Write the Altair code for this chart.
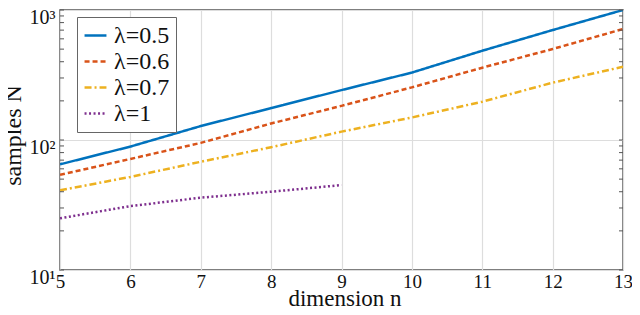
import altair as alt
import pandas as pd

# ---- data ----
n_vals = [5, 6, 7, 8, 9, 10, 11, 12, 13]
lam05 = [65, 89, 128, 176, 242, 330, 486, 701, 1000]
lam06 = [54, 71.5, 95, 134, 183, 254, 360, 501, 714]
lam07 = [41, 52, 68, 88, 116, 149, 197, 276, 366]
n_lam1 = [5, 6, 7, 8, 9]
lam1 = [25, 31, 36, 40, 45]

series_names = ["λ=0.5", "λ=0.6", "λ=0.7", "λ=1"]
series_colors = ["#0072BD", "#D95319", "#EDB120", "#7E2F8E"]
series_dash = [[1, 0], [5, 3], [7, 3, 2, 3], [2, 2.5]]

y_major = [10, 100, 1000]
y_minor = [m * 10 ** k for k in (1, 2) for m in range(2, 10)]
x_ticks = [5, 6, 7, 8, 9, 10, 11, 12, 13]

rows = []
for name, xs, ys in [
    (series_names[0], n_vals, lam05),
    (series_names[1], n_vals, lam06),
    (series_names[2], n_vals, lam07),
    (series_names[3], n_lam1, lam1),
]:
    for xv, yv in zip(xs, ys):
        rows.append({"n": xv, "N": yv, "series": name})
df = pd.DataFrame(rows)

W, H = 563, 260
FONT = "'Liberation Serif', 'DejaVu Serif', serif"

x_scale = alt.Scale(domain=[5, 13], nice=False, zero=False)
y_scale = alt.Scale(type="log", domain=[10, 1000], nice=False)

lines = alt.Chart(df).mark_line(strokeWidth=2.5, clip=True).encode(
    x=alt.X("n:Q", scale=x_scale,
            axis=alt.Axis(title="dimension n", values=x_ticks, grid=True,
                          ticks=False, labelFont=FONT, titleFont=FONT,
                          labelFontSize=19, titleFontSize=23,
                          labelPadding=2, format="d", labelFlush=False,
                          titleBaseline="alphabetic", titleY=35, titleX=W / 2 + 3)),
    y=alt.Y("N:Q", scale=y_scale,
            axis=alt.Axis(title="samples N", values=y_major, grid=True,
                          ticks=False, labelFont=FONT, titleFont=FONT,
                          labelFontSize=20, titleFontSize=24,
                          labelPadding=5, labelBaseline="top", labelOffset=-3,
                          titleBaseline="alphabetic", titleX=-40, titleY=125,
                          labelExpr="'10' + (datum.value >= 1000 ? '³' : datum.value >= 100 ? '²' : '¹')")),
    color=alt.Color("series:N", scale=alt.Scale(domain=series_names, range=series_colors),
                    legend=alt.Legend(title=None, labelFont=FONT)),
    strokeDash=alt.StrokeDash("series:N", scale=alt.Scale(domain=series_names, range=series_dash),
                              legend=alt.Legend(title=None, labelFont=FONT)),
    order=alt.Order("n:Q"),
)

minor_df = pd.DataFrame({"N": y_minor + y_major})
left_ticks = alt.Chart(minor_df).mark_rule(color="#555", strokeWidth=1).encode(
    y=alt.Y("N:Q", scale=y_scale), x=alt.value(0), x2=alt.value(4))
right_ticks = alt.Chart(minor_df).mark_rule(color="#555", strokeWidth=1).encode(
    y=alt.Y("N:Q", scale=y_scale), x=alt.value(W - 4), x2=alt.value(W))

chart = alt.layer(lines, left_ticks, right_ticks).properties(
    width=W, height=H,
    autosize=alt.AutoSizeParams(type="none"),
    padding={"left": 52, "top": 2, "right": 9, "bottom": 37},
).configure_view(
    stroke="#555", strokeWidth=1.5
).configure_axis(
    labelColor="#111", titleColor="#111",
    titleFontWeight="normal", domain=False, gridColor="#dddddd", gridWidth=1.2,
).configure_legend(
    orient="none", legendX=17, legendY=7,
    strokeColor="#666", fillColor="white", padding=6, cornerRadius=0,
    labelFontSize=24, labelColor="#111",
    symbolType="stroke", symbolSize=480, symbolStrokeWidth=2.5,
    rowPadding=1, labelOffset=6, labelLimit=200,
)

chart.save("out.html", embed_options={"renderer": "svg", "actions": False})
